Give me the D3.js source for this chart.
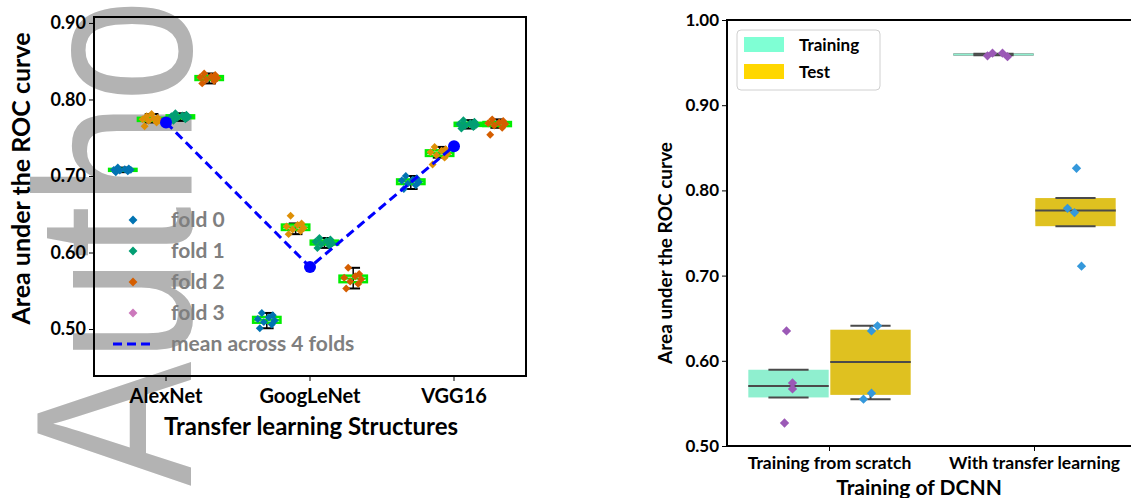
<!DOCTYPE html>
<html>
<head>
<meta charset="utf-8">
<script src="https://cdn.jsdelivr.net/npm/d3@7"></script>
<style>
body{margin:0;background:#fff}
text{font-family:Lato,sans-serif;font-weight:bold}
</style>
</head>
<body>
<svg id="chart"></svg>
<script>
// ---- left panel data: AUC of each fold (runs), per network ----
const nets = ['AlexNet', 'GoogLeNet', 'VGG16'];
const foldNames = ['fold 0', 'fold 1', 'fold 2', 'fold 3'];
const alexAUC = [
  [0.705, 0.706, 0.707, 0.708, 0.708, 0.709, 0.710, 0.711],
  [0.765, 0.770, 0.772, 0.773, 0.774, 0.775, 0.776, 0.778, 0.781],
  [0.772, 0.774, 0.776, 0.777, 0.778, 0.779, 0.780, 0.782],
  [0.821, 0.824, 0.826, 0.828, 0.829, 0.830, 0.832, 0.834]
];
const googleAUC = [
  [0.501, 0.506, 0.509, 0.511, 0.513, 0.515, 0.518, 0.521],
  [0.624, 0.628, 0.630, 0.632, 0.634, 0.636, 0.638, 0.648],
  [0.606, 0.609, 0.611, 0.612, 0.614, 0.615, 0.617, 0.619],
  [0.553, 0.559, 0.562, 0.565, 0.567, 0.569, 0.572, 0.580]
];
const vggAUC = [
  [0.683, 0.688, 0.690, 0.692, 0.694, 0.695, 0.697, 0.700],
  [0.715, 0.724, 0.727, 0.729, 0.731, 0.733, 0.735, 0.738],
  [0.762, 0.764, 0.766, 0.767, 0.768, 0.769, 0.771, 0.773],
  [0.754, 0.763, 0.766, 0.768, 0.769, 0.770, 0.772, 0.774]
];
const meanAUC = [0.770, 0.581, 0.739];
const leftTicks = [0.50, 0.60, 0.70, 0.80, 0.90];

// ---- right panel data ----
const dcnnGroups = ['Training from scratch', 'With transfer learning'];
const setNames = ['Training', 'Test'];
const scratchTrain = [0.635, 0.574, 0.567, 0.527];
const scratchTest = [0.641, 0.635, 0.562, 0.555];
const transferTrain = [0.958, 0.961, 0.961, 0.957];
const transferTest = [0.826, 0.779, 0.774, 0.711];
// box stats: [whisker low, q1, median, q3, whisker high]
const scratchTrainBox = [0.557, 0.557, 0.5705, 0.5895, 0.5895];
const scratchTestBox = [0.555, 0.560, 0.5985, 0.6365, 0.641];
const transferTrainBox = [0.9585, 0.9585, 0.9595, 0.9605, 0.9605];
const transferTestBox = [0.758, 0.758, 0.7765, 0.791, 0.791];
const rightTicks = [0.50, 0.60, 0.70, 0.80, 0.90, 1.00];

const foldColors = ['#0173b2', '#de8f05', '#029e73', '#d55e00'];
const legendColors = ['#0173b2', '#029e73', '#d55e00', '#cc78bc'];
const jitterL = [-7, 5, -3, 8, -9, 2, 6, -5, 0];

const svg = d3.select('#chart')
  .attr('width', 1131)
  .attr('height', 498)
  .style('display', 'block');

// watermark behind everything
svg.append('text')
  .attr('transform', 'translate(191,486) rotate(-90) scale(0.84,1)')
  .style('font-family', '"Liberation Sans", Arial, sans-serif')
  .style('font-weight', 'normal')
  .style('font-size', '222px')
  .attr('fill', '#b3b3b3')
  .text('Autho');

// ================= LEFT PANEL =================
const L = {left: 94, right: 526, top: 17, bottom: 376};

const xL = d3.scaleBand()
  .domain(nets)
  .range([L.left, L.right]);

const yL = d3.scaleLinear()
  .domain([0.4386, 0.9078])
  .range([L.bottom, L.top]);

const hue = d3.scaleBand()
  .domain(d3.range(4))
  .range([-xL.bandwidth() * 0.4, xL.bandwidth() * 0.4]);

svg.append('g')
  .attr('transform', `translate(${L.left},0)`)
  .call(d3.axisLeft(yL).tickValues(leftTicks).tickFormat(d3.format('.2f')).tickSize(5))
  .call(g => g.select('.domain').remove())
  .call(g => g.selectAll('text').style('font-size', '18px').attr('fill', '#000'));

svg.append('g')
  .attr('transform', `translate(0,${L.bottom})`)
  .call(d3.axisBottom(xL).tickSize(5).tickPadding(8))
  .call(g => g.select('.domain').remove())
  .call(g => g.selectAll('text').style('font-size', '20px').attr('fill', '#000'));

svg.append('rect')
  .attr('x', L.left).attr('y', L.top)
  .attr('width', L.right - L.left).attr('height', L.bottom - L.top)
  .attr('fill', 'none').attr('stroke', '#000').attr('stroke-width', 2);

svg.append('text')
  .attr('x', (L.left + L.right) / 2 + 1).attr('y', 435)
  .attr('text-anchor', 'middle')
  .style('font-size', '24px')
  .text('Transfer learning Structures');

svg.append('text')
  .attr('transform', `translate(30,${(L.top + L.bottom) / 2 - 18}) rotate(-90)`)
  .attr('text-anchor', 'middle')
  .style('font-size', '25px')
  .text('Area under the ROC curve');

function boxStats(vals) {
  const s = vals.slice().sort(d3.ascending);
  const q1 = d3.quantile(s, 0.25), med = d3.quantile(s, 0.5), q3 = d3.quantile(s, 0.75);
  const iqr = q3 - q1;
  const lo = d3.min(s.filter(v => v >= q1 - 1.5 * iqr));
  const hi = d3.max(s.filter(v => v <= q3 + 1.5 * iqr));
  return [lo, q1, med, q3, hi];
}

const leftData = [alexAUC, googleAUC, vggAUC];
const boxW = hue.bandwidth() * 0.95;

leftData.forEach((folds, i) => {
  folds.forEach((vals, f) => {
    const cx = xL(nets[i]) + xL.bandwidth() / 2 + hue(f) + hue.bandwidth() / 2;
    const [lo, q1, med, q3, hi] = boxStats(vals);
    const g = svg.append('g');
    g.append('line')
      .attr('x1', cx).attr('x2', cx).attr('y1', yL(lo)).attr('y2', yL(hi))
      .attr('stroke', '#000').attr('stroke-width', 1.5);
    [lo, hi].forEach(v => g.append('line')
      .attr('x1', cx - boxW / 4).attr('x2', cx + boxW / 4)
      .attr('y1', yL(v)).attr('y2', yL(v))
      .attr('stroke', '#000').attr('stroke-width', 2));
    g.append('rect')
      .attr('x', cx - boxW / 2).attr('y', yL(q3))
      .attr('width', boxW).attr('height', Math.max(yL(q1) - yL(q3), 1))
      .attr('fill', 'none').attr('stroke', '#00ee00').attr('stroke-width', 2.5);
    g.append('line')
      .attr('x1', cx - boxW / 2).attr('x2', cx + boxW / 2)
      .attr('y1', yL(med)).attr('y2', yL(med))
      .attr('stroke', '#00ee00').attr('stroke-width', 2);
    g.selectAll('path')
      .data(vals)
      .enter()
      .append('path')
      .attr('d', d3.symbol(d3.symbolDiamond2, 40))
      .attr('transform', (d, k) => `translate(${cx + jitterL[k % jitterL.length]},${yL(d)})`)
      .attr('fill', foldColors[f]);
  });
});

// mean line
const meanLine = d3.line()
  .x((d, i) => xL(nets[i]) + xL.bandwidth() / 2)
  .y(d => yL(d));

svg.append('path')
  .datum(meanAUC)
  .attr('fill', 'none')
  .attr('stroke', '#0000ff')
  .attr('stroke-width', 3)
  .attr('stroke-dasharray', '9,5')
  .attr('d', meanLine);

svg.selectAll('.meanDot')
  .data(meanAUC)
  .enter()
  .append('circle')
  .attr('cx', (d, i) => xL(nets[i]) + xL.bandwidth() / 2)
  .attr('cy', d => yL(d))
  .attr('r', 6)
  .attr('fill', '#0000ff');

// left legend
const legL = svg.append('g');
foldNames.forEach((name, i) => {
  legL.append('path')
    .attr('d', d3.symbol(d3.symbolDiamond2, 50))
    .attr('transform', `translate(133,${220 + i * 31})`)
    .attr('fill', legendColors[i]);
  legL.append('text')
    .attr('x', 171).attr('y', 220 + i * 31 + 7)
    .style('font-size', '21px')
    .attr('fill', '#7f7f7f')
    .text(name);
});
legL.append('line')
  .attr('x1', 113).attr('x2', 151).attr('y1', 344).attr('y2', 344)
  .attr('stroke', '#0000ff').attr('stroke-width', 3).attr('stroke-dasharray', '9,5');
legL.append('text')
  .attr('x', 171).attr('y', 351)
  .style('font-size', '21px')
  .attr('fill', '#7f7f7f')
  .text('mean across 4 folds');

// ================= RIGHT PANEL =================
const R = {left: 727, right: 1137, top: 20, bottom: 446};

const xR = d3.scaleBand()
  .domain(dcnnGroups)
  .range([R.left, R.right]);

const yR = d3.scaleLinear()
  .domain([0.5, 1.0])
  .range([R.bottom, R.top]);

const setX = d3.scaleBand()
  .domain(setNames)
  .range([-xR.bandwidth() * 0.4, xR.bandwidth() * 0.4]);

const fillColors = ['#8fefcf', '#dfc120'];
const patchColors = ['#7fffd4', '#ffd700'];
const pointColors = ['#9b59b6', '#3498db'];
const lineGray = '#4a4a4a';

svg.append('g')
  .attr('transform', `translate(${R.left},0)`)
  .call(d3.axisLeft(yR).tickValues(rightTicks).tickFormat(d3.format('.2f')).tickSize(5))
  .call(g => g.select('.domain').remove())
  .call(g => g.selectAll('text').style('font-size', '17px').attr('fill', '#000'));

svg.append('g')
  .attr('transform', `translate(0,${R.bottom})`)
  .call(d3.axisBottom(xR).tickSize(5).tickPadding(6))
  .call(g => g.select('.domain').remove())
  .call(g => g.selectAll('text').style('font-size', '17.5px').attr('fill', '#000'));

const boxesR = [
  [scratchTrainBox, scratchTestBox],
  [transferTrainBox, transferTestBox]
];
const pointsR = [
  [scratchTrain, scratchTest],
  [transferTrain, transferTest]
];
const jitterR = [
  [[-2, 4, 4, -4], [7, 1, 1, -7]],
  [[-6, -1, 9, 14], [1, -8, -1, 6]]
];
const bw = setX.bandwidth() * 0.98;

dcnnGroups.forEach((grp, i) => {
  setNames.forEach((s, j) => {
    const cx = xR(grp) + xR.bandwidth() / 2 + setX(s) + setX.bandwidth() / 2;
    const [lo, q1, med, q3, hi] = boxesR[i][j];
    const g = svg.append('g');
    g.append('line')
      .attr('x1', cx - bw / 2).attr('x2', cx + bw / 2)
      .attr('y1', yR(med)).attr('y2', yR(med))
      .attr('stroke', lineGray).attr('stroke-width', 2);
    g.append('rect')
      .attr('x', cx - bw / 2).attr('y', yR(q3))
      .attr('width', bw).attr('height', yR(q1) - yR(q3))
      .attr('fill', fillColors[j]);
    if (yR(q1) - yR(q3) > 4) {
      g.append('line')
        .attr('x1', cx - bw / 2).attr('x2', cx + bw / 2)
        .attr('y1', yR(med)).attr('y2', yR(med))
        .attr('stroke', lineGray).attr('stroke-width', 2);
    }
    g.append('line')
      .attr('x1', cx).attr('x2', cx).attr('y1', yR(lo)).attr('y2', yR(q1))
      .attr('stroke', lineGray).attr('stroke-width', 2);
    g.append('line')
      .attr('x1', cx).attr('x2', cx).attr('y1', yR(q3)).attr('y2', yR(hi))
      .attr('stroke', lineGray).attr('stroke-width', 2);
    [lo, hi].forEach(v => g.append('line')
      .attr('x1', cx - bw / 4).attr('x2', cx + bw / 4)
      .attr('y1', yR(v)).attr('y2', yR(v))
      .attr('stroke', lineGray).attr('stroke-width', 2));
    g.selectAll('path')
      .data(pointsR[i][j])
      .enter()
      .append('path')
      .attr('d', d3.symbol(d3.symbolDiamond2, 55))
      .attr('transform', (d, k) => `translate(${cx + jitterR[i][j][k]},${yR(d)})`)
      .attr('fill', pointColors[j]);
  });
});

// right frame (right spine is beyond the picture edge)
svg.append('path')
  .attr('d', `M${R.right},${R.top}H${R.left}V${R.bottom}H${R.right}`)
  .attr('fill', 'none').attr('stroke', '#000').attr('stroke-width', 2);

svg.append('text')
  .attr('transform', `translate(672,${(R.top + R.bottom) / 2 + 20}) rotate(-90)`)
  .attr('text-anchor', 'middle')
  .style('font-size', '19px')
  .text('Area under the ROC curve');

svg.append('text')
  .attr('x', 919).attr('y', 495)
  .attr('text-anchor', 'middle')
  .style('font-size', '21px')
  .text('Training of DCNN');

// right legend
const legR = svg.append('g');
legR.append('rect')
  .attr('x', 737).attr('y', 30).attr('width', 143).attr('height', 60).attr('rx', 4)
  .attr('fill', '#fff').attr('stroke', '#d0d0d0').attr('stroke-width', 1);
setNames.forEach((s, i) => {
  legR.append('rect')
    .attr('x', 744).attr('y', 37 + i * 27).attr('width', 40).attr('height', 15)
    .attr('fill', patchColors[i]);
  legR.append('text')
    .attr('x', 799).attr('y', 51 + i * 27)
    .style('font-size', '17px')
    .text(s);
});
</script>
</body>
</html>
